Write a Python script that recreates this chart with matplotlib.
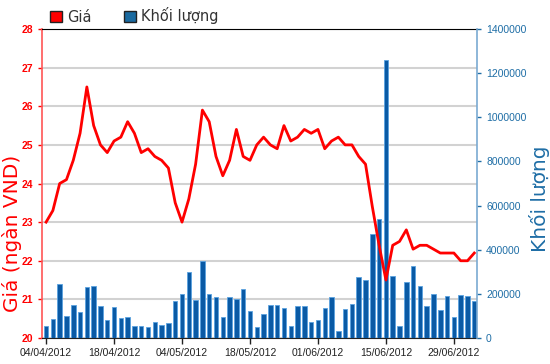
import numpy as np
import pandas as pd
import matplotlib.pyplot as plt
from matplotlib.patches import Patch

# ========================
# Data
# ========================
# trading days 04/04/2012 - 04/07/2012, 30/04 and 01/05 are holidays
days = pd.bdate_range('2012-04-04', '2012-07-04')
days = days[~days.isin(pd.to_datetime(['2012-04-30', '2012-05-01']))]

price = [23.0, 23.3, 24.0, 24.1, 24.6, 25.3, 26.5, 25.5, 25.0, 24.8,
         25.1, 25.2, 25.6, 25.3, 24.8, 24.9, 24.7, 24.6, 24.4, 23.5,
         23.0, 23.6, 24.5, 25.9, 25.6, 24.7, 24.2, 24.6, 25.4, 24.7,
         24.6, 25.0, 25.2, 25.0, 24.9, 25.5, 25.1, 25.2, 25.4, 25.3,
         25.4, 24.9, 25.1, 25.2, 25.0, 25.0, 24.7, 24.5, 23.4, 22.4,
         21.5, 22.4, 22.5, 22.8, 22.3, 22.4, 22.4, 22.3, 22.2, 22.2,
         22.2, 22.0, 22.0, 22.2]

volume = [56, 85, 246, 100, 151, 116, 230, 234, 145, 83,
          139, 89, 94, 56, 56, 50, 71, 60, 66, 168,
          201, 298, 172, 347, 201, 184, 94, 184, 178, 223,
          122, 50, 107, 151, 151, 134, 54, 145, 145, 71,
          83, 134, 184, 32, 130, 155, 275, 264, 470, 538,
          1260, 280, 54, 252, 325, 234, 145, 201, 128, 189,
          94, 195, 189, 169]
volume = np.array(volume) * 1000

price_ticks = list(range(20, 29))
volume_ticks = list(range(0, 1400001, 200000))
tick_every = 10

RED = '#ff0000'
BLUE = '#0a5aa5'
BLUE_TXT = '#1f6ea6'

x = np.arange(len(price))

# ========================
# Figure
# ========================
fig = plt.figure(figsize=(5.5, 3.64), dpi=100)
ax = fig.add_axes([42 / 550, 1 - 338 / 364, 435 / 550, 309 / 364])
ax2 = ax.twinx()
ax3 = ax.twinx()
ax.set_zorder(1)
ax2.set_zorder(2)
ax3.set_zorder(3)
ax2.patch.set_visible(False)
ax3.patch.set_visible(False)

# price axis (left) with grid
ax.set_xlim(-0.6, len(price) - 0.6)
ax.set_ylim(20, 28)
ax.set_yticks(price_ticks)
ax.grid(axis='y', color='#d2d2d2', linewidth=1.5)
ax.tick_params(axis='y', colors=RED, labelsize=7.5, length=3, width=1)
for lab in ax.get_yticklabels():
    lab.set_fontweight('bold')
    lab.set_fontfamily('Liberation Sans')
ax.spines['left'].set_color('#ff5555')
ax.spines['left'].set_linewidth(1.2)
ax.spines['right'].set_visible(False)
ax.spines['top'].set_color('black')
ax.spines['bottom'].set_color('#222222')

tick_pos = list(range(0, len(price), tick_every))
ax.set_xticks(tick_pos)
ax.set_xticklabels([days[i].strftime('%d/%m/%Y') for i in tick_pos],
                   fontfamily='Liberation Sans')
ax.tick_params(axis='x', colors='#222222', labelsize=7.5, length=4, width=1)

ax.set_ylabel('Giá (ngàn VND)', color=RED, fontsize=14.5)
ax.yaxis.set_label_coords(-0.045, 0.34)

# volume axis (right) with bars
ax2.bar(x, volume, width=0.66, color=BLUE, edgecolor='#5aa2e0', linewidth=0.6)
ax2.set_ylim(0, 1400000)
ax2.set_yticks(volume_ticks)
ax2.set_yticklabels([str(v) for v in volume_ticks], fontfamily='Liberation Sans')
ax2.tick_params(axis='y', colors=BLUE_TXT, labelsize=7.5, length=3, width=1)
ax2.spines['right'].set_color('#7aaad2')
ax2.spines['right'].set_linewidth(1.2)
for s in ['left', 'top', 'bottom']:
    ax2.spines[s].set_visible(False)
ax2.set_ylabel('Khối lượng', color=BLUE_TXT, fontsize=14.5)
ax2.yaxis.set_label_coords(1.12, 0.45)

# price line on top of bars
ax3.plot(x, price, color=RED, linewidth=2.0, solid_joinstyle='round')
ax3.set_ylim(20, 28)
ax3.axis('off')

# legend above the plot
handles = [Patch(facecolor=RED, edgecolor='#222222', label='Giá'),
           Patch(facecolor='#1a6aa0', edgecolor='#222222', label='Khối lượng')]
fig.legend(handles=handles, loc='center left', bbox_to_anchor=(44 / 550, 1 - 16 / 364),
           ncol=2, frameon=False, fontsize=10.5, handlelength=0.8, handleheight=0.8,
           handletextpad=0.4, columnspacing=2.2, labelcolor='#333333', borderaxespad=0)

fig.savefig('out.png', dpi=100)
